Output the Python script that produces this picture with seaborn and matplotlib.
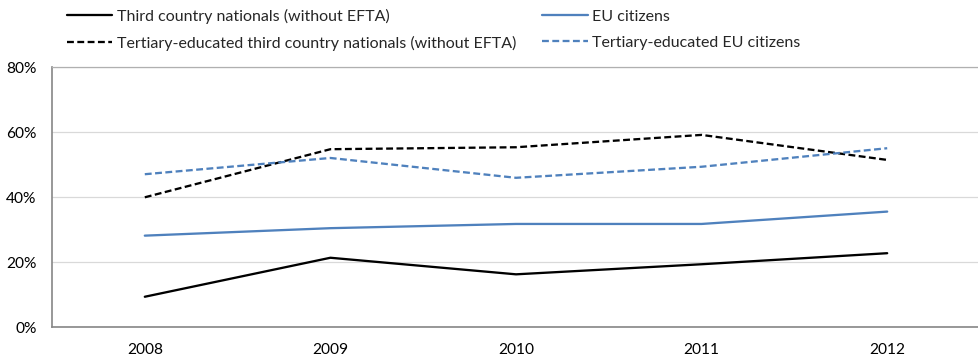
import matplotlib
matplotlib.use("Agg")
import matplotlib.pyplot as plt
import seaborn as sns
import pandas as pd
from matplotlib.ticker import FuncFormatter
from matplotlib.lines import Line2D

years = ["2008", "2009", "2010", "2011", "2012"]
third_country = [9.4, 21.4, 16.3, 19.4, 22.8]
eu_citizens = [28.2, 30.5, 31.8, 31.8, 35.6]
tertiary_third_country = [40.0, 54.8, 55.4, 59.2, 51.5]
tertiary_eu = [47.1, 52.1, 46.0, 49.4, 55.1]

series_names = [
    "Third country nationals (without EFTA)",
    "Tertiary-educated third country nationals (without EFTA)",
    "EU citizens",
    "Tertiary-educated EU citizens",
]
series_values = [third_country, tertiary_third_country, eu_citizens, tertiary_eu]

rows = []
for name, vals in zip(series_names, series_values):
    for i, (y, v) in enumerate(zip(years, vals)):
        rows.append({"series": name, "pos": i, "year": y, "value": v})
df = pd.DataFrame(rows)

sns.set_theme(style="white")
plt.rcParams["font.family"] = ["Lato", "DejaVu Sans"]

BLUE = "#4f81bd"
palette = {
    series_names[0]: "black",
    series_names[1]: "black",
    series_names[2]: BLUE,
    series_names[3]: BLUE,
}
dashes = {
    series_names[0]: "",
    series_names[1]: (3, 1.5),
    series_names[2]: "",
    series_names[3]: (3, 1.5),
}

FS = 11.2
LFS = 11.5
fig = plt.figure(figsize=(9.79, 3.57), dpi=100)
ax = fig.add_axes([52 / 979, 1 - 327.3 / 357, (980 - 52) / 979, (327.3 - 67.3) / 357])

sns.lineplot(data=df, x="pos", y="value", hue="series", style="series",
             hue_order=series_names, style_order=series_names,
             palette=palette, dashes=dashes, linewidth=1.65, ax=ax, legend=False)

ax.set_xlim(-0.5, 4.5)
ax.set_ylim(0, 80)
ax.set_xticks(range(len(years)))
ax.set_xticklabels(years)
ax.set_yticks([0, 20, 40, 60, 80])
ax.yaxis.set_major_formatter(FuncFormatter(lambda v, p: f"{v:.0f}%"))
ax.set_xlabel("")
ax.set_ylabel("")
ax.grid(axis="y", color="#d9d9d9", linewidth=0.9)
ax.grid(axis="x", visible=False)
ax.tick_params(axis="both", length=0, labelsize=FS, colors="black")
ax.tick_params(axis="y", pad=11)
ax.tick_params(axis="x", pad=11)
for side in ["left", "bottom"]:
    ax.spines[side].set_color("#868686")
    ax.spines[side].set_linewidth(1.2)
ax.spines["top"].set_color("#b0b0b0")
ax.spines["top"].set_linewidth(0.9)
ax.spines["right"].set_visible(False)

handles = [Line2D([], [], color=palette[n], linewidth=1.65,
                  linestyle=(0, (3, 1.5)) if dashes[n] else "-") for n in series_names]
fig.legend(handles, series_names, ncol=2, loc="upper left",
           bbox_to_anchor=(66.7 / 979, 1 - 9 / 357), frameon=False,
           fontsize=LFS, handlelength=2.85, handletextpad=0.28,
           columnspacing=1.65, labelspacing=0.72, borderpad=0, borderaxespad=0)

fig.savefig("out.png", dpi=100)
